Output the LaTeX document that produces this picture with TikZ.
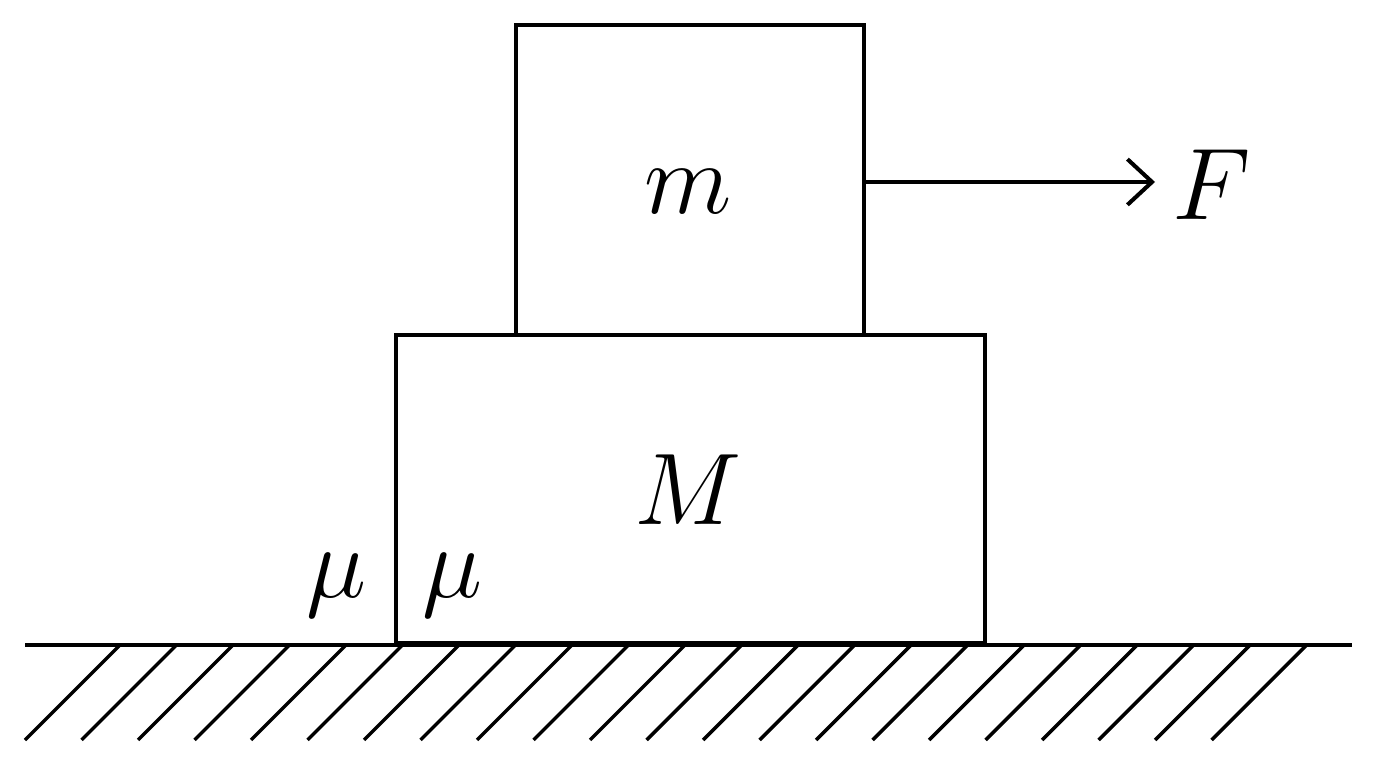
\documentclass[tikz,border=0pt]{standalone}
\usetikzlibrary{positioning,arrows.meta}
\tikzset{
  body/.style={draw, line width=2.3pt, minimum width=#1, inner sep=0pt},
  lbl/.style={font=\Huge, scale=2.33},
}
\begin{document}
\begin{tikzpicture}[>={Straight Barb[length=14pt,width=26pt,line width=2.3pt]}, line width=2.3pt]
\useasboundingbox (0,0) rectangle (27.52,15.36);
% ground
\coordinate (gl) at (0.5,2.46);
\coordinate (gr) at (27.04,2.46);
\draw (gl) -- (gr);
\foreach \k in {0,...,21}
  \draw[line width=2pt] ({2.4+1.13*\k},2.46) -- ++(-1.9,-1.9);
% blocks
\node[body=11.78cm, minimum height=6.16cm, anchor=south west] (bigM) at (7.88,2.46) {};
\node[body=6.96cm, minimum height=6.2cm, anchor=south west] (smallm) at (10.28,8.62) {};
\node[lbl] at (13.76,11.52) {$m$};
\node[lbl] at (13.76,5.56) {$M$};
\node[lbl] at (6.74,3.66) {$\mu$};
\node[lbl] at (9.04,3.66) {$\mu$};
% force
\node[lbl] (F) at (24.24,11.66) {$F$};
\coordinate (Fs) at (smallm.east |- 0,11.72);
\draw[->] (Fs) -- (23.1,11.72);
\end{tikzpicture}
\end{document}
